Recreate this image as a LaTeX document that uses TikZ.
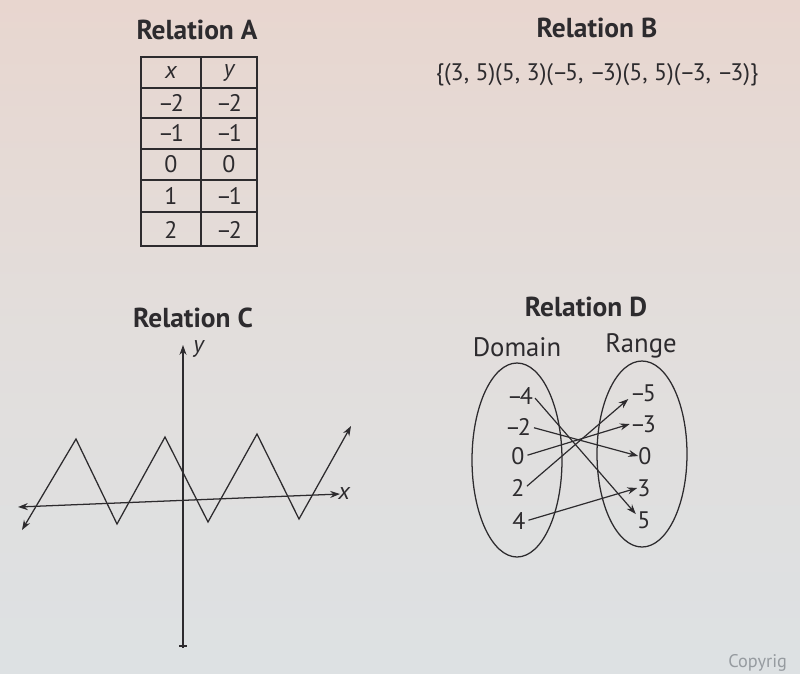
\documentclass[tikz,border=0pt]{standalone}
\usepackage{fontspec}
\setmainfont{PT Sans}
\usetikzlibrary{arrows.meta}
\definecolor{ink}{RGB}{45,43,46}
\definecolor{bgtop}{RGB}{232,214,207}
\definecolor{bgbot}{RGB}{221,225,227}
\newcommand\mn{–\kern-0.12em}
\tikzset{
  title/.style={font=\bfseries\fontsize{19.5}{22}\selectfont, text=ink, inner sep=0pt},
  txt/.style={font=\fontsize{17}{19}\selectfont, text=ink, inner sep=0pt},
  big/.style={font=\fontsize{19}{21}\selectfont, text=ink, inner sep=0pt},
  cell/.style={font=\fontsize{17}{19}\selectfont, text=ink, inner sep=0pt},
  ln/.style={draw=ink, line width=0.9pt},
  tip/.style={-{Stealth[length=7pt,width=5pt]}},
  tips/.style={{Stealth[length=7pt,width=5pt]}-{Stealth[length=7pt,width=5pt]}},
}
\begin{document}
\begin{tikzpicture}[x=0.025cm,y=-0.025cm]
\useasboundingbox (0,0) rectangle (800,673);
\clip (0,0) rectangle (800,673);
\shade[top color=bgtop, bottom color=bgbot, middle color={rgb,255:red,226;green,222;blue,220}] (0,0) rectangle (800,673);

% Relation A
\node[title] (tA) at (197,30) {Relation A};
\draw[ln] (141,57) rectangle (257,246);
\draw[ln] (201,57) -- (201,246);
\foreach \yy in {88,118,149,180,212} \draw[ln] (141,\yy) -- (257,\yy);
\node[cell] (ax) at (171,73) {\itshape x};
\node[cell] (ay) at (229,73) {\itshape y};
\node[cell] (ax1) at (171,103) {\mn2};
\node[cell] (ay1) at (229,103) {\mn2};
\node[cell] (ax2) at (171,133) {\mn1};
\node[cell] (ay2) at (229,133) {\mn1};
\node[cell] (ax3) at (171,164) {0};
\node[cell] (ay3) at (229,164) {0};
\node[cell] (ax4) at (171,196) {1};
\node[cell] (ay4) at (229,196) {\mn1};
\node[cell] (ax5) at (171,230) {2};
\node[cell] (ay5) at (229,230) {\mn2};

% Relation B
\node[title] (tB) at (597,28) {Relation B};
\node[txt] (setB) at (597,75) {\{(3, 5)(5, 3)(\mn5, \mn3)(5, 5)(\mn3, \mn3)\}};

% Relation C
\node[title] (tC) at (193,318) {Relation C};
\coordinate (yb) at (183,648);
\coordinate (yt) at (183,345);
\coordinate (xl) at (18,507);
\coordinate (xr) at (340,494);
\draw[ln, tip] (yb) -- (yt);
\draw[ln, tips] (xl) -- (xr);
\draw[ln] (179,646) -- (187,646);
\node[txt, anchor=west] (ylab) at (193,349) {\itshape y};
\node[txt, anchor=west] (xlab) at (338,494) {\itshape x};
\coordinate (z0) at (22,530);
\coordinate (z1) at (76,439);
\coordinate (z2) at (117,524);
\coordinate (z3) at (165,437);
\coordinate (z4) at (208,522);
\coordinate (z5) at (257,434);
\coordinate (z6) at (299,519);
\coordinate (z7) at (351,426);
\draw[ln, tips, line join=miter] (z0) -- (z1) -- (z2) -- (z3) -- (z4) -- (z5) -- (z6) -- (z7);

% Relation D
\node[title] (tD) at (586,307) {Relation D};
\node[big] (dom) at (517,347) {Domain};
\node[big] (ran) at (641,346) {Range};
\draw[ln] (517,460) ellipse [x radius=45, y radius=97];
\draw[ln] (642,454) ellipse [x radius=45, y radius=93];
\node[txt] (d1) at (520,396) {\mn4};
\node[txt] (d2) at (518,427) {\mn2};
\node[txt] (d3) at (518,456) {0};
\node[txt] (d4) at (518,488) {2};
\node[txt] (d5) at (519,521) {4};
\node[txt] (r1) at (643,393) {\mn5};
\node[txt] (r2) at (643,424) {\mn3};
\node[txt] (r3) at (645,456) {0};
\node[txt] (r4) at (644,488) {3};
\node[txt] (r5) at (644,520) {5};
\draw[ln, tip, line width=0.85pt, shorten <=2pt] (d1.east) -- ([xshift=-1pt,yshift=-2pt]r5.north west);
\draw[ln, tip, line width=0.85pt, shorten <=2pt] (d2.east) -- (r3.west);
\draw[ln, tip, line width=0.85pt, shorten <=2pt] (d3.east) -- (r2.west);
\draw[ln, tip, line width=0.85pt, shorten <=2pt] (d4.east) -- ([xshift=-1pt,yshift=2pt]r1.south west);
\draw[ln, tip, line width=0.85pt, shorten <=2pt] (d5.east) -- (r4.west);

% Copyright (cut off in the reference)
\node[font=\fontsize{13}{14}\selectfont, text={rgb,255:red,150;green,155;blue,160}, anchor=south west, inner sep=0pt] (copy) at (728,672) {Copyrig};
\end{tikzpicture}
\end{document}
